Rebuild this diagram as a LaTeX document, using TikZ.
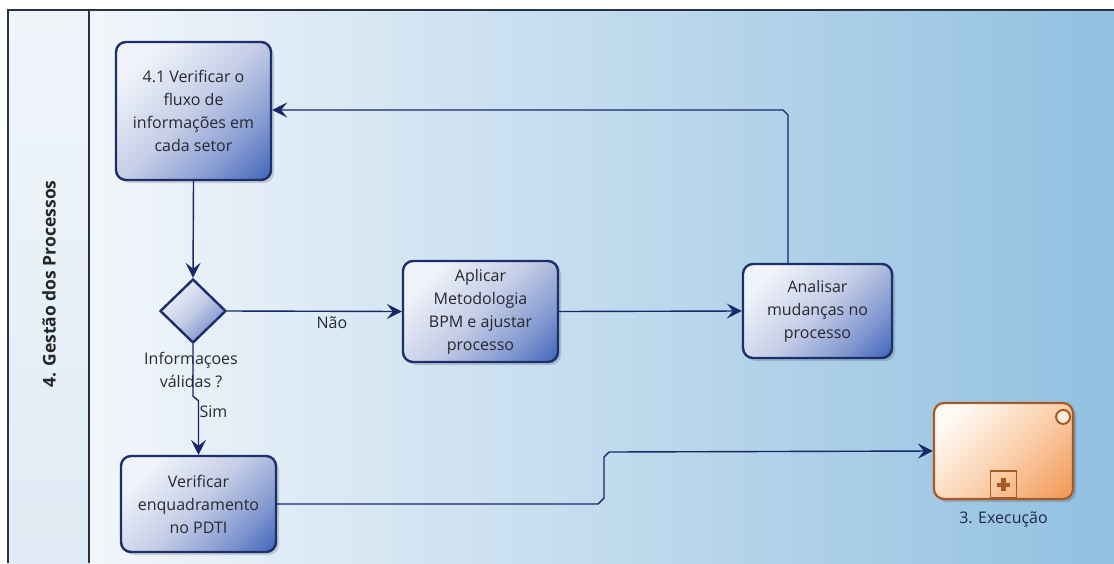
\documentclass[tikz,border=0pt]{standalone}
\usepackage{fontspec}
\setmainfont{Open Sans}
\usetikzlibrary{arrows.meta,shapes.geometric,calc,shadows}
\definecolor{navy}{RGB}{22,40,105}
\definecolor{edge}{RGB}{28,46,108}
\definecolor{txt}{RGB}{40,40,48}
\definecolor{frame}{RGB}{40,50,70}
\definecolor{tA}{RGB}{240,243,250}
\definecolor{tB}{RGB}{196,205,230}
\definecolor{tC}{RGB}{130,152,208}
\definecolor{tD}{RGB}{50,92,182}
\definecolor{eA}{RGB}{255,249,243}
\definecolor{eB}{RGB}{250,205,168}
\definecolor{eC}{RGB}{242,150,82}
\definecolor{brownedge}{RGB}{165,90,40}
\pgfdeclarehorizontalshading{taskshade}{100bp}{color(0bp)=(tA); color(25bp)=(tA); color(50bp)=(tB); color(70bp)=(tC); color(88bp)=(tD); color(100bp)=(tD)}
\pgfdeclarehorizontalshading{execshade}{100bp}{color(0bp)=(eA); color(25bp)=(eA); color(55bp)=(eB); color(85bp)=(eC); color(100bp)=(eC)}
\tikzset{
  base/.style={font=\fontsize{16}{23}\selectfont, text=txt, align=center},
  task/.style={base, rectangle, rounded corners=10pt, draw=edge, line width=2.4pt,
    shading=taskshade, shading angle=-45, inner sep=0pt,
    drop shadow={shadow xshift=3pt, shadow yshift=-3pt, opacity=0.15, fill=black}},
  gate/.style={diamond, draw=edge, line width=2.4pt, shading=taskshade, shading angle=-45,
    minimum width=66pt, minimum height=64pt, inner sep=0pt},
  sub/.style={base, rectangle, rounded corners=10pt, draw=brownedge, line width=2.2pt,
    shading=execshade, shading angle=-45, inner sep=0pt,
    drop shadow={shadow xshift=3pt, shadow yshift=-3pt, opacity=0.15, fill=black}},
  flow/.style={draw=navy, line width=1.4pt, -{Stealth[length=15pt,width=15pt,inset=6pt]}},
  lbl/.style={base}
}
\begin{document}
\begin{tikzpicture}[x=1pt,y=-1pt]
\useasboundingbox (0,0) rectangle (1114,563);
% background
\fill[white] (0,0) rectangle (1114,563);
\shade[left color={rgb,255:red,242;green,246;blue,251}, right color={rgb,255:red,145;green,192;blue,224}] (89,10) rectangle (1114,563);
\shade[top color={rgb,255:red,240;green,245;blue,250}, bottom color={rgb,255:red,224;green,235;blue,245}] (8,10) rectangle (89,563);
\draw[frame, line width=1.2pt] (8,563) -- (8,10) -- (1114,10);
\draw[frame, line width=1.2pt] (89,10) -- (89,563);
\node[base, font=\fontsize{17.5}{20}\selectfont\bfseries, text=black!85, rotate=90] (lane) at (49,284) {4. Gestão dos Processos};

% nodes
\node[task, minimum width=155pt, minimum height=138pt] (t41) at (193.5,111) {4.1 Verificar o\\fluxo de\\informações em\\cada setor};
\node[gate] (dia) at (193,311) {};
\node[lbl, anchor=north] (dlab) at (191,349) {Informaçoes\\válidas ?};
\node[task, minimum width=155pt, minimum height=101pt] (apl) at (480.5,311.5) {Aplicar\\Metodologia\\BPM e ajustar\\processo};
\node[task, minimum width=149pt, minimum height=94pt] (ana) at (817.5,311) {Analisar\\mudanças no\\processo};
\node[task, minimum width=155pt, minimum height=96pt] (pdti) at (198.5,504) {Verificar\\enquadramento\\no PDTI};
\node[sub, minimum width=139pt, minimum height=96pt] (exe) at (1003.5,451) {};
\node[lbl, text={rgb,255:red,30;green,40;blue,80}, anchor=north] (exelab) at (exe.south) [yshift=-8pt] {3. Execução};
\node[circle, draw=brownedge, line width=2pt, fill={rgb,255:red,253;green,236;blue,222}, minimum size=14pt, inner sep=0pt] (ring) at ($(exe.north east)+(-11,15)$) {};
\node[rectangle, draw=brownedge, line width=1.8pt, minimum width=26pt, minimum height=27pt, inner sep=0pt, anchor=south] (plusbox) at ($(exe.south)+(0,-1)$) {};
\fill[brownedge] ($(plusbox.center)+(-6.5,-2.2)$) rectangle ($(plusbox.center)+(6.5,2.2)$);
\fill[brownedge] ($(plusbox.center)+(-2.2,-6.5)$) rectangle ($(plusbox.center)+(2.2,6.5)$);

% connectors
\draw[flow] (t41.south) -- (dia.north);
\draw[flow] (dia.east) -- node[lbl, below, pos=0.6, yshift=-1pt] (nao) {Não} (apl.west);
\draw[flow] (dia.south) -- ($(dia.south)+(0,52)$) -- ($(pdti.north)+(0,-54)$) -- node[lbl, right, pos=0.2, xshift=-3pt] (sim) {Sim} (pdti.north);
\draw[flow] (apl.east) -- (ana.west);
\draw[flow] ([xshift=-29.5pt]ana.north) -- (788,115) -- (783,110) -- (t41.east |- 0,110);
\draw[flow] (pdti.east) -- (598,504) -- (604,498) -- (604,457) -- (609,452) -- (exe.west);
\end{tikzpicture}
\end{document}
